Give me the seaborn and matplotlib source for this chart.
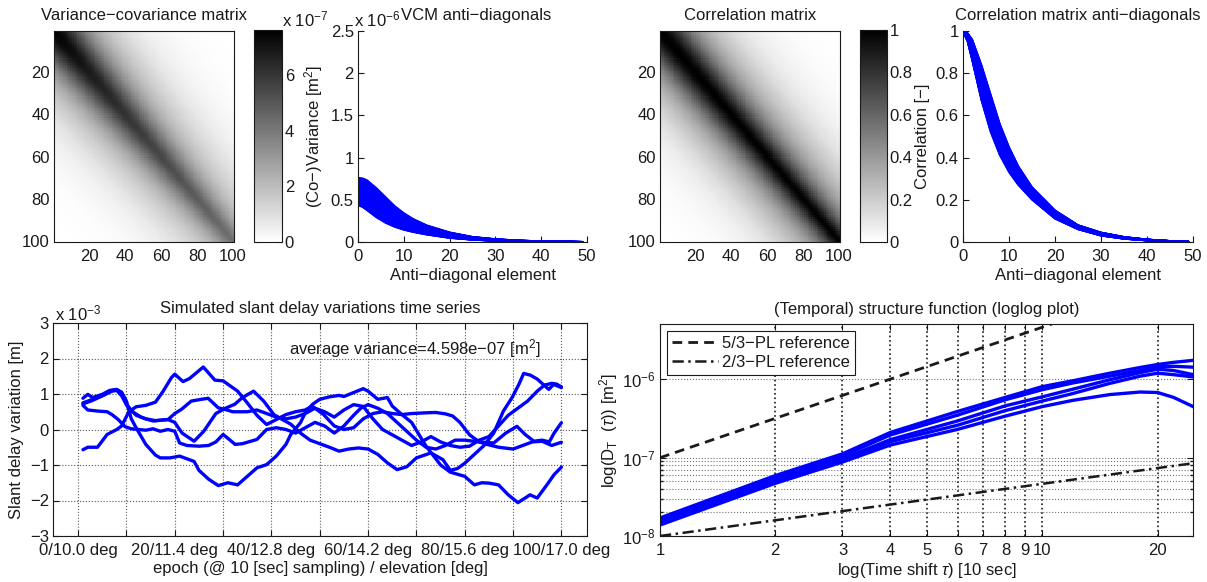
import numpy as np
import pandas as pd
import matplotlib
matplotlib.use("Agg")
import matplotlib.pyplot as plt
import seaborn as sns
from matplotlib.ticker import (FixedLocator, FixedFormatter, NullLocator,
                               NullFormatter, LogFormatterMathtext)

# ---------------------------------------------------------------- data
epoch_ticks = [0, 20, 40, 60, 80, 100]
elev_ticks = [10.0, 11.4, 12.8, 14.2, 15.6, 17.0]
variance_at_elev = [7.62e-7, 6.8e-7, 6.1e-7, 5.5e-7, 4.85e-7, 4.3e-7]

ad_element = [0, 1, 2, 4, 6, 8, 10, 12, 15, 20, 25, 30, 35, 40, 45, 49]
corr_long = [1.0, 0.99, 0.96, 0.84, 0.70, 0.56, 0.45, 0.36, 0.26, 0.15,
             0.08, 0.045, 0.024, 0.012, 0.005, 0.002]
corr_short = [1.0, 0.95, 0.86, 0.67, 0.52, 0.41, 0.33, 0.27, 0.20, 0.11,
              0.06, 0.03, 0.015, 0.007, 0.003, 0.001]

# slant delay variations, values in units of 1e-3 m
sd1_epoch = [1, 3, 5, 7, 8, 9, 10, 11, 12, 14, 16, 17, 19, 21, 23, 24, 25, 27, 29, 31,
             33, 35, 37, 39, 41, 43, 44, 46, 47, 48.5, 50, 52, 54, 55, 57, 59, 60, 62, 64, 65,
             67, 69, 72, 75, 77, 80, 82, 83.5, 85, 87, 89, 91, 92.5, 93.5, 95, 97, 98.5, 100]
sd1_value = [0.72, 0.82, 0.95, 1.1, 1.12, 1.05, 0.8, 0.3, 0.05, -0.42, -0.72, -0.8, -0.8, -0.75, -0.85, -0.9, -1.15, -1.4, -1.58, -1.5,
             -1.56, -1.32, -1.08, -0.99, -0.75, -0.42, -0.14, 0.19, 0.47, 0.71, 0.85, 0.92, 0.96, 0.93, 1.04, 1.15, 1.08, 0.85, 0.9, 0.66,
             0.42, 0.2, -0.47, -1.0, -1.2, -1.32, -1.56, -1.5, -1.51, -1.56, -1.84, -2.06, -1.93, -1.84, -1.93, -1.56, -1.27, -1.06]
sd2_epoch = [1, 2, 4, 6, 8, 9, 10.5, 12, 14, 16, 17.6, 19.3, 20, 21.7, 23, 25.9, 27.2, 28.3, 30, 33,
             35, 37, 39, 41, 43, 45, 47, 48.4, 50.8, 53, 55, 57, 59, 61, 63, 65, 67, 69, 72, 74,
             76, 77.5, 79, 81, 83, 84.6, 87, 90, 92, 94, 96, 98, 100]
sd2_value = [-0.57, -0.5, -0.5, -0.14, 0.0, 0.1, 0.5, 0.64, 0.68, 0.77, 1.08, 1.46, 1.56, 1.35, 1.43, 1.76, 1.56, 1.39, 1.37, 1.08,
             0.75, 0.4, 0.14, 0.28, 0.42, 0.5, 0.55, 0.66, 0.42, 0.1, 0.0, 0.05, 0.3, 0.45, 0.5, 0.45, 0.42, 0.45, 0.47, 0.48,
             0.44, 0.38, 0.2, -0.15, -0.35, -0.42, -0.5, -0.55, -0.45, -0.35, -0.33, -0.45, -0.36]
sd3_epoch = [1, 2, 4, 6, 7, 8.3, 9.7, 11, 14, 15.5, 17, 18.6, 20, 21, 22.5, 25, 27, 28.5, 30, 31,
             32.5, 34, 37, 39, 41, 43, 45, 47, 49, 51, 53, 55, 57, 58.5, 60, 62, 64, 66, 68, 70,
             72, 74, 76, 78, 80, 83, 86, 88.5, 90.8, 92.5, 94.3, 96, 97.5, 98.5, 100]
sd3_value = [0.68, 0.55, 0.52, 0.5, 0.42, 0.28, 0.08, 0.02, -0.02, 0.02, -0.05, 0.0, -0.05, -0.38, -0.45, -0.47, -0.45, -0.35, -0.14, -0.25,
             -0.42, -0.4, -0.28, 0.0, 0.05, 0.0, -0.1, 0.05, 0.2, 0.1, -0.1, 0.1, 0.4, 0.6, 0.7, 0.6, 0.45, 0.2, -0.05, -0.3,
             -0.5, -0.55, -0.45, -0.3, -0.3, -0.35, -0.38, -0.1, 0.09, -0.14, -0.33, -0.3, -0.35, -0.1, 0.19]
sd4_epoch = [1, 2, 3, 5, 6.5, 8, 9, 10, 11, 13, 14, 16, 18.6, 20, 21.5, 24, 26, 28.5, 30.5, 32.4,
             34, 36.3, 38.4, 40.5, 42, 44, 46, 48, 50, 52, 54, 56, 58, 60, 62, 64, 66, 68, 70, 73,
             75.5, 77, 78.5, 80, 82, 84, 86, 88, 89.8, 91.2, 92.2, 93.6, 95, 97.4, 98.4, 100]
sd4_value = [0.88, 0.99, 0.9, 0.99, 1.1, 1.13, 1.04, 0.7, 0.52, 0.35, 0.3, 0.25, 0.28, 0.2, -0.1, -0.33, -0.05, 0.45, 0.6, 0.71,
             0.9, 1.08, 0.8, 0.42, 0.3, 0.15, -0.1, -0.3, -0.4, -0.5, -0.61, -0.55, -0.52, -0.55, -0.7, -0.94, -1.13, -1.05, -0.8, -0.66,
             -0.85, -1.15, -1.1, -0.95, -0.7, -0.45, -0.1, 0.52, 0.9, 1.27, 1.58, 1.53, 1.42, 1.13, 1.27, 1.18]
sd5_epoch = [1, 3, 5, 7, 8, 9, 10, 11, 12, 14, 15.5, 17, 18.6, 20, 21.4, 23.4, 25.5, 26.9, 29, 30.3,
             32, 35, 37, 39, 41, 43, 45, 47, 49, 51, 53, 55, 57, 59, 61, 63, 65, 67, 69, 71,
             73, 75, 77, 79, 81, 83, 85, 87, 89, 91, 93, 95, 96.5, 98, 99, 100]
sd5_value = [0.75, 0.85, 0.95, 1.08, 1.1, 0.95, 0.7, 0.55, 0.4, 0.3, 0.24, 0.26, 0.28, 0.45, 0.57, 0.8, 0.85, 0.88, 0.61, 0.57,
             0.5, 0.5, 0.55, 0.45, 0.35, 0.3, 0.35, 0.45, 0.6, 0.5, 0.35, 0.55, 0.7, 0.65, 0.3, 0.0, -0.15, -0.3, -0.45, -0.35,
             -0.2, -0.35, -0.45, -0.5, -0.47, -0.3, -0.2, 0.1, 0.4, 0.6, 0.8, 1.08, 1.25, 1.3, 1.28, 1.2]
avg_variance_label = "average variance=4.598e\u221207 [m$^2$]"

# temporal structure functions
sf_lag = [1, 2, 3, 4, 6, 8, 10, 12, 15, 18, 20, 22, 25]
sf1 = [1.70e-8, 5.9e-8, 1.12e-7, 2.1e-7, 3.9e-7, 5.9e-7, 8.1e-7, 9.6e-7, 1.2e-6, 1.42e-6, 1.55e-6, 1.65e-6, 1.76e-6]
sf2 = [1.60e-8, 5.5e-8, 1.05e-7, 1.95e-7, 3.5e-7, 5.5e-7, 7.4e-7, 9.0e-7, 1.1e-6, 1.3e-6, 1.45e-6, 1.47e-6, 1.43e-6]
sf3 = [1.50e-8, 5.1e-8, 9.7e-8, 1.7e-7, 2.95e-7, 4.6e-7, 6.0e-7, 7.5e-7, 9.9e-7, 1.22e-6, 1.35e-6, 1.3e-6, 1.14e-6]
sf4 = [1.45e-8, 4.9e-8, 9.2e-8, 1.6e-7, 2.6e-7, 4.0e-7, 5.3e-7, 6.6e-7, 8.9e-7, 1.1e-6, 1.2e-6, 1.15e-6, 1.07e-6]
sf5 = [1.38e-8, 4.7e-8, 8.8e-8, 1.45e-7, 2.3e-7, 3.4e-7, 4.5e-7, 5.4e-7, 6.4e-7, 6.9e-7, 6.8e-7, 5.9e-7, 4.4e-7]
pl53_lag = [1, 25]
pl53_val = [1e-7, 2.14e-5]
pl23_lag = [1, 25]
pl23_val = [1e-8, 8.55e-8]

sf_xticks = [1, 2, 3, 4, 5, 6, 7, 8, 9, 10, 20]

# ---------------------------------------------------------------- derived
n = 100
idx = np.arange(n)
elev = np.interp(idx, epoch_ticks, elev_ticks)
var_i = np.interp(elev, elev_ticks, variance_at_elev)
I, J = np.meshgrid(idx, idx, indexing="ij")
w = (I + J) / 2.0 / (n - 1)
lag_el = np.abs(I - J) / 2.0
corr_mat = (1 - w) * np.interp(lag_el, ad_element, corr_long) + w * np.interp(lag_el, ad_element, corr_short)
vcm = np.sqrt(np.outer(var_i, var_i)) * corr_mat

rows_v, rows_c = [], []
cl, cs = np.array(corr_long), np.array(corr_short)
for k in range(0, n, 2):
    wk = k / (n - 1)
    cline = (1 - wk) * cl + wk * cs
    for e, c in zip(ad_element, cline):
        rows_c.append((k, e, c))
        rows_v.append((k, e, c * var_i[k]))
vad_df = pd.DataFrame(rows_v, columns=["line", "element", "value"])
cad_df = pd.DataFrame(rows_c, columns=["line", "element", "value"])

ts_df = pd.concat([
    pd.DataFrame({"epoch": ep, "value": va, "series": name})
    for name, ep, va in [("s1", sd1_epoch, sd1_value), ("s2", sd2_epoch, sd2_value),
                         ("s3", sd3_epoch, sd3_value), ("s4", sd4_epoch, sd4_value),
                         ("s5", sd5_epoch, sd5_value)]])
sf_df = pd.concat([
    pd.DataFrame({"lag": sf_lag, "D": v, "series": name})
    for name, v in [("a", sf1), ("b", sf2), ("c", sf3), ("d", sf4), ("e", sf5)]])

# ---------------------------------------------------------------- style
sns.set_theme(style="white")
plt.rcParams.update({
    "font.family": ["Liberation Sans", "DejaVu Sans"],
    "mathtext.fontset": "custom",
    "mathtext.rm": "Liberation Sans",
    "mathtext.it": "Liberation Sans:italic",
    "mathtext.bf": "Liberation Sans:bold",
    "font.size": 12,
    "axes.titlesize": 12,
    "axes.labelsize": 12,
    "xtick.labelsize": 12,
    "ytick.labelsize": 12,
    "legend.fontsize": 12,
    "text.color": "k",
    "axes.labelcolor": "k",
    "xtick.color": "k",
    "ytick.color": "k",
    "axes.edgecolor": "k",
    "axes.linewidth": 0.8,
    "axes.unicode_minus": True,
})

W, H = 1207, 582
fig = plt.figure(figsize=(W / 100, H / 100), dpi=100)


def add_ax(l, t, r, b):
    return fig.add_axes([l / W, 1 - b / H, (r - l) / W, (b - t) / H])


ax_vcm = add_ax(54, 31, 234, 242)
cax_vcm = add_ax(254, 30, 282, 242)
ax_vad = add_ax(358, 31, 587, 242)
ax_cor = add_ax(660, 31, 840, 242)
cax_cor = add_ax(860, 30, 887, 242)
ax_cad = add_ax(963, 31, 1193, 242)
ax_ts = add_ax(53, 323, 587, 536)
ax_sf = add_ax(660, 324, 1193, 536)

MINUS = "\u2212"


def tick_style(ax, box=True):
    ax.tick_params(direction="in", length=4, width=0.8, top=box, right=box,
                   bottom=True, left=True)
    ax.tick_params(axis="x", pad=5)
    ax.tick_params(axis="y", pad=3)


# ---- heatmaps
hm_ticks = [19.5, 39.5, 59.5, 79.5, 99.5]
hm_labels = ["20", "40", "60", "80", "100"]
for ax, cax, mat, vmax, title, cticks, clabels in [
    (ax_vcm, cax_vcm, vcm, max(variance_at_elev), "Variance\u2212covariance matrix",
     [0, 2e-7, 4e-7, 6e-7], ["0", "2", "4", "6"]),
    (ax_cor, cax_cor, corr_mat, 1.0, "Correlation matrix",
     [0, 0.2, 0.4, 0.6, 0.8, 1.0], ["0", "0.2", "0.4", "0.6", "0.8", "1"]),
]:
    sns.heatmap(mat, ax=ax, cbar_ax=cax, cmap="gray_r", vmin=0, vmax=vmax,
                xticklabels=False, yticklabels=False, rasterized=True)
    ax.set_xticks(hm_ticks)
    ax.set_xticklabels(hm_labels, rotation=0)
    ax.set_yticks(hm_ticks)
    ax.set_yticklabels(hm_labels, rotation=0)
    for s in ax.spines.values():
        s.set_visible(True)
        s.set_color("k")
        s.set_linewidth(0.8)
    tick_style(ax, box=True)
    ax.set_title(title, pad=8)
    cb = ax.collections[0].colorbar
    cb.set_ticks(cticks)
    cb.set_ticklabels(clabels)
    cb.outline.set_visible(True)
    cb.outline.set_linewidth(0.8)
    cb.outline.set_edgecolor("k")
    cax.tick_params(direction="in", length=3, width=0.8, left=True, right=True,
                    labelleft=False, labelright=True, pad=2)

fig.text(282 / W, 1 - 19 / H, "x 10$^{-7}$", ha="left", va="center", fontsize=12)

# ---- anti-diagonal panels
for ax, df, ylim, yt, ytl, ylabel, title, tx in [
    (ax_vad, vad_df, (0, 2.5e-6), [0, 0.5e-6, 1e-6, 1.5e-6, 2e-6, 2.5e-6],
     ["0", "0.5", "1", "1.5", "2", "2.5"], "(Co\u2212)Variance [m$^2$]", "VCM anti\u2212diagonals", 0.515),
    (ax_cad, cad_df, (0, 1), [0, 0.2, 0.4, 0.6, 0.8, 1.0],
     ["0", "0.2", "0.4", "0.6", "0.8", "1"], "Correlation [\u2212]", "Correlation matrix anti\u2212diagonals", 0.5),
]:
    sns.lineplot(data=df, x="element", y="value", units="line", estimator=None,
                 color="blue", lw=1.3, ax=ax, sort=False)
    ax.set_xlim(0, 50)
    ax.set_ylim(*ylim)
    ax.set_xticks([0, 10, 20, 30, 40, 50])
    ax.set_yticks(yt)
    ax.set_yticklabels(ytl)
    ax.spines["top"].set_visible(False)
    ax.spines["right"].set_visible(False)
    tick_style(ax, box=False)
    ax.set_xlabel("Anti\u2212diagonal element", labelpad=3)
    ax.set_ylabel(ylabel, labelpad=4)
    ax.set_title(title, pad=8, x=tx)

fig.text(354 / W, 1 - 19 / H, "x 10$^{-6}$", ha="left", va="center", fontsize=12)

# ---- time series
sns.lineplot(data=ts_df, x="epoch", y="value", units="series", estimator=None,
             color="blue", lw=2.4, ax=ax_ts, sort=False)
ax_ts.set_xlim(-5.2, 105.3)
ax_ts.set_ylim(-3, 3)
ax_ts.set_xticks(list(range(0, 101, 10)))
ts_xlabels = []
for t in range(0, 101, 10):
    if t in epoch_ticks:
        ts_xlabels.append(f"{t}/{elev_ticks[epoch_ticks.index(t)]:.1f} deg")
    else:
        ts_xlabels.append("")
ax_ts.set_xticklabels(ts_xlabels)
ax_ts.set_yticks([-3, -2, -1, 0, 1, 2, 3])
ax_ts.set_yticklabels([f"{v}".replace("-", MINUS) for v in [-3, -2, -1, 0, 1, 2, 3]])
ax_ts.grid(True, color="0.35", ls=":", lw=0.8)
for s in ax_ts.spines.values():
    s.set_visible(True)
tick_style(ax_ts, box=True)
ax_ts.set_xlabel("epoch (@ 10 [sec] sampling) / elevation [deg]", labelpad=2)
ax_ts.set_ylabel("Slant delay variation [m]", labelpad=4)
ax_ts.set_title("Simulated slant delay variations time series", pad=7)
ax_ts.text(0.914, 0.878, avg_variance_label, transform=ax_ts.transAxes,
           ha="right", va="center", fontsize=12)
fig.text(55 / W, 1 - 313 / H, "x 10$^{-3}$", ha="left", va="center", fontsize=12)

# ---- structure function
sns.lineplot(data=sf_df, x="lag", y="D", units="series", estimator=None,
             color="blue", lw=2.4, ax=ax_sf, sort=False)
sns.lineplot(x=pl53_lag, y=pl53_val, ax=ax_sf, color="k", lw=2.0)
sns.lineplot(x=pl23_lag, y=pl23_val, ax=ax_sf, color="k", lw=1.8)
ref53, ref23 = ax_sf.lines[-2], ax_sf.lines[-1]
ref53.set_linestyle((0, (3.5, 2.2)))
ref23.set_linestyle((0, (4.5, 1.8, 1, 1.8)))
ax_sf.set_xscale("log")
ax_sf.set_yscale("log")
ax_sf.set_xlim(1, 24.75)
ax_sf.set_ylim(1e-8, 5.1e-6)
ax_sf.xaxis.set_major_locator(FixedLocator(sf_xticks))
ax_sf.xaxis.set_major_formatter(FixedFormatter([str(v) for v in sf_xticks]))
ax_sf.xaxis.set_minor_locator(NullLocator())
ax_sf.yaxis.set_major_locator(FixedLocator([1e-8, 1e-7, 1e-6]))
ax_sf.yaxis.set_major_formatter(LogFormatterMathtext())
ax_sf.yaxis.set_minor_locator(FixedLocator([k * 1e-8 for k in range(2, 10)]))
ax_sf.yaxis.set_minor_formatter(NullFormatter())
ax_sf.grid(True, axis="x", which="major", color="k", ls=":", lw=1.2)
ax_sf.grid(True, axis="y", which="both", color="0.45", ls=":", lw=0.8)
for s in ax_sf.spines.values():
    s.set_visible(True)
tick_style(ax_sf, box=True)
ax_sf.tick_params(which="minor", direction="in", length=2, left=True, right=True)
ax_sf.set_xlabel("log(Time shift $\\tau$) [10 sec]", labelpad=2)
ax_sf.set_ylabel("log(D$_\\mathrm{T}$  ($\\tau$)) [m$^2$]", labelpad=2)
ax_sf.set_title("(Temporal) structure function (loglog plot)", pad=7)
ax_sf.legend([ref53, ref23], ["5/3\u2212PL reference", "2/3\u2212PL reference"],
             loc="upper left", frameon=True, fancybox=False, edgecolor="k",
             framealpha=1, handlelength=2.8, handletextpad=0.2, borderpad=0.3,
             labelspacing=0.25, borderaxespad=0.4)
ax_sf.get_legend().get_frame().set_linewidth(0.8)

fig.savefig("out.png", dpi=100)
